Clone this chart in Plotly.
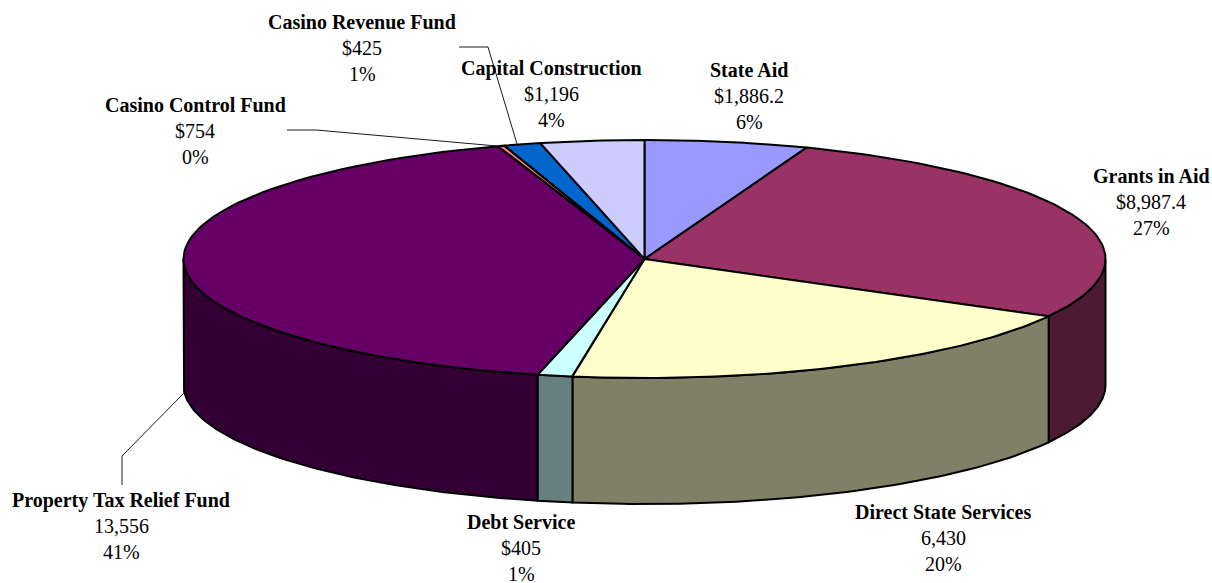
import numpy as np
import plotly.graph_objects as go

names = ["State Aid", "Grants in Aid", "Direct State Services", "Debt Service",
         "Property Tax Relief Fund", "Casino Control Fund", "Casino Revenue Fund", "Capital Construction"]
values = [1886.2, 8987.4, 6430, 405, 13556, 75.4, 425, 1196]
value_labels = ["$1,886.2", "$8,987.4", "6,430", "$405", "13,556", "$754", "$425", "$1,196"]
pct_labels = ["6%", "27%", "20%", "1%", "41%", "0%", "1%", "4%"]
top_colors = ["#9999FF", "#993366", "#FFFFCC", "#CCFFFF", "#660066", "#FF8080", "#0066CC", "#CCCCFF"]
side_colors = ["#4D4D80", "#4D1A33", "#808066", "#668080", "#330033", "#804040", "#003366", "#666680"]
label_x = [749, 1151, 943, 521, 121, 195, 362, 551]
label_y = [69.5, 176, 512, 522, 500, 105, 22, 68]

CX, CY, RX, RY, DEPTH = 644.5, 259, 461, 119, 126
LINE_GAP = 26


def rim(a0, a1, n=80):
    a = np.linspace(a0, a1, n)
    return CX + RX * np.sin(a), CY - RY * np.cos(a)


fig = go.Figure()
edges = np.concatenate([[0], np.cumsum(values)]) / sum(values) * 2 * np.pi

# visible front wall (angles measured clockwise from the top of the ellipse)
for i in range(len(values)):
    a0, a1 = max(edges[i], np.pi / 2), min(edges[i + 1], 3 * np.pi / 2)
    if a1 <= a0:
        continue
    x, y = rim(a0, a1)
    xs = np.concatenate([x, x[::-1], x[:1]])
    ys = np.concatenate([y, y[::-1] + DEPTH, y[:1]])
    fig.add_trace(go.Scatter(x=xs, y=ys, mode="lines", fill="toself", fillcolor=side_colors[i],
                             line=dict(color="black", width=2), hoverinfo="skip", showlegend=False))

# top face
for i in range(len(values)):
    x, y = rim(edges[i], edges[i + 1])
    xs = np.concatenate([[CX], x, [CX]])
    ys = np.concatenate([[CY], y, [CY]])
    fig.add_trace(go.Scatter(x=xs, y=ys, mode="lines", fill="toself", fillcolor=top_colors[i],
                             line=dict(color="black", width=2), name=names[i], showlegend=False))

# leader lines
leaders = [([122, 122, 184], [485, 456, 393]),
           ([287, 316, 497], [130, 130, 146]),
           ([459, 488, 517], [47, 47, 144])]
for lx, ly in leaders:
    fig.add_trace(go.Scatter(x=lx, y=ly, mode="lines", line=dict(color="black", width=0.9),
                             hoverinfo="skip", showlegend=False))

# data labels
for i, name in enumerate(names):
    lines = [f"<b>{name}</b>", value_labels[i], pct_labels[i]]
    for j, t in enumerate(lines):
        fig.add_annotation(x=label_x[i], y=label_y[i] + j * LINE_GAP, text=t, showarrow=False,
                           xanchor="center", yanchor="middle",
                           font=dict(family="Liberation Serif", size=20, color="black"))

fig.update_layout(
    width=1212, height=583, margin=dict(l=0, r=0, t=0, b=0),
    paper_bgcolor="white", plot_bgcolor="white", showlegend=False,
    xaxis=dict(range=[0, 1212], visible=False, fixedrange=True),
    yaxis=dict(range=[583, 0], visible=False, fixedrange=True),
)
fig.write_html("out.html", config={"displayModeBar": False},
               post_script="document.body.style.margin='0';document.body.style.overflow='hidden';")
